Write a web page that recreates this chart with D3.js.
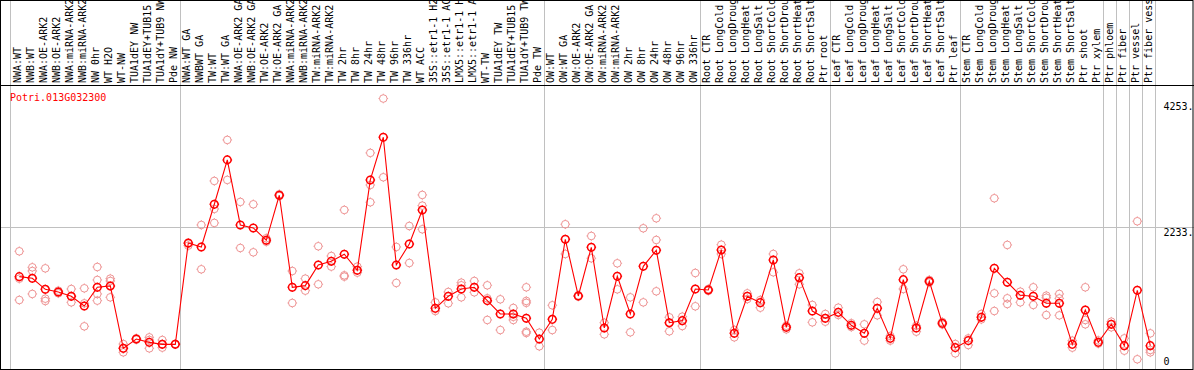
<!DOCTYPE html>
<html>
<head>
<meta charset="utf-8">
<script src="https://cdn.jsdelivr.net/npm/d3@7"></script>
<style>
  body { margin: 0; background: #fff; }
  svg { display: block; }
  text { font-family: "DejaVu Sans Mono", monospace; font-size: 10px; }
</style>
</head>
<body>
<svg width="1194" height="370"></svg>
<script>
var geneName = "Potri.013G032300"

var sampleLabels = ["NWA:WT", "NWB:WT", "NWA:OE-ARK2", "NWB:OE-ARK2", "NWA:miRNA-ARK2", "NWB:miRNA-ARK2",
  "NW 0hr", "WT H2O", "WT-NW", "TUA1dEY NW", "TUA1dEY+TUB15 NW", "TUA1dY+TUB9 NW", "Pde NW",
  "NWA:WT GA", "NWBWT GA", "TW:WT", "TW:WT GA", "NWA:OE-ARK2 GA", "NWB:OE-ARK2 GA", "TW:OE-ARK2",
  "TW:OE-ARK2 GA", "NWA:miRNA-ARK2", "NWB:miRNA-ARK2", "TW:miRNA-ARK2", "TW:miRNA-ARK2", "TW 2hr",
  "TW 8hr", "TW 24hr", "TW 48hr", "TW 96hr", "TW 336hr", "WT ACC", "35S::etr1-1 H2O", "35S::etr1-1 ACC",
  "LMX5::etr1-1 H2O", "LMX5::etr1-1 ACC", "WT-TW", "TUA1dEY TW", "TUA1dEY+TUB15 TW", "TUA1dY+TUB9 TW", "Pde TW",
  "OW:WT", "OW:WT GA", "OW:OE-ARK2", "OW:OE-ARK2 GA", "OW:miRNA-ARK2", "OW:miRNA-ARK2", "OW 2hr", "OW 8hr",
  "OW 24hr", "OW 48hr", "OW 96hr", "OW 336hr",
  "Root CTR", "Root LongCold", "Root LongDrought", "Root LongHeat", "Root LongSalt", "Root ShortCold",
  "Root ShortDrought", "Root ShortHeat", "Root ShortSalt", "Ptr root",
  "Leaf CTR", "Leaf LongCold", "Leaf LongDrought", "Leaf LongHeat", "Leaf LongSalt", "Leaf ShortCold",
  "Leaf ShortDrought", "Leaf ShortHeat", "Leaf ShortSalt", "Ptr leaf",
  "Stem CTR", "Stem LongCold", "Stem LongDrought", "Stem LongHeat", "Stem LongSalt", "Stem ShortCold",
  "Stem ShortDrought", "Stem ShortHeat", "Stem ShortSalt", "Ptr shoot",
  "Ptr xylem", "Ptr phloem", "Ptr fiber", "Ptr vessel", "Ptr fiber vessel"]

var meanValues = [1452, 1426, 1253, 1211, 1143, 991, 1285, 1306, 325, 472, 419, 388, 388,
  1982, 1919, 2590, 3288, 2265, 2218, 2024, 2732, 1285, 1311, 1636, 1694, 1804, 1552, 2973, 3644,
  1636, 1966, 2501, 954, 1143, 1258, 1285, 1075, 865, 865, 797, 472,
  781, 2040, 1148, 1914, 645, 1458, 865, 1615, 1867, 728, 760, 1258,
  1243, 1872, 561, 1143, 1043, 1715, 656, 1436, 912, 797,
  891, 687, 561, 954, 482, 1405, 645, 1379, 718, 336,
  446, 813, 1583, 1364, 1159, 1143, 1033, 1033, 388, 928,
  419, 703, 367, 1238, 367]

var replicateValues = [
  [1851, 1085, 1420], [1599, 1541, 1180], [1583, 1106, 1069], [1232, 1190, 1211], [1258, 1048, 1143],
  [1269, 1033, 671], [1604, 1400, 1180, 1075], [1421, 1384, 1127], [393, 262, 325], [482, 462],
  [498, 456, 325], [456, 388, 336], [395, 388],
  [1971, 1940], [2265, 1568], [2957, 2517, 2297], [3602, 2973], [2627, 1903], [2590, 1835], [2056, 2000],
  [2748, 2720], [1541, 1038], [1421, 1232], [1930, 1332], [1777, 1610], [2501, 1473, 1452], [1610, 1515],
  [3398, 2894, 2622], [4253, 3015], [1919, 1353], [2249, 1667], [2737, 2569, 2197], [1048, 912],
  [1211, 1033], [1358, 1316, 1127], [1384, 1206], [1316, 1112, 771], [1096, 613], [960, 771, 820],
  [1285, 1070, 1040, 587, 566], [571, 357],
  [1002, 613], [2276, 1809], [1160, 1140], [2092, 1741], [728, 545], [1662, 1253], [1127, 577],
  [2213, 1048], [2370, 2029, 1222], [813, 593], [823, 676], [1510, 986],
  [1258, 1230], [1955, 1809], [613, 498], [1190, 1100], [1085, 964], [1809, 1521], [624, 680],
  [1505, 1332], [1007, 734], [865, 744],
  [964, 850], [720, 660], [703, 446], [1054, 844], [519, 446], [1568, 1258], [587, 680], [1400, 1360],
  [740, 700], [393, 246],
  [482, 377], [865, 780], [2685, 1190, 912], [1951, 1112, 1022], [1216, 1048], [1285, 1007],
  [1153, 1120, 849], [1180, 1110, 844], [446, 336], [1285, 771, 703],
  [450, 400], [744, 656], [482, 288], [2323, 153], [561, 299, 262]]

// last sample index of each tissue block (-1 = left edge)
var groupEnds = [-1, 12, 40, 52, 62, 72, 83, 84, 85, 86, 87]

var yTickValues = [4253, 2233, 0]

function renderChart() {
  var svg = d3.select("svg")
  var width = 1194, height = 370
  var labelBottom = 85, plotBottom = 369

  var xScale = d3.scaleLinear().domain([0, sampleLabels.length - 1]).range([19.3, 19.3 + 13 * (sampleLabels.length - 1)])
  var yScale = d3.scaleLinear().domain([0, d3.max(replicateValues.flat()) * 1.05]).range([plotBottom, labelBottom])

  var crisp = v => Math.round(v) + 0.5

  // grid
  var grid = svg.append("g").attr("id", "grid").style("stroke", "#c0c0c0").style("stroke-width", 1)
  grid.selectAll(".vgrid")
    .data(groupEnds)
    .enter()
    .append("line").attr("class", "vgrid")
    .attr("x1", d => crisp(d < 0 ? xScale(0) - 9.3 : xScale(d) + 5))
    .attr("x2", d => crisp(d < 0 ? xScale(0) - 9.3 : xScale(d) + 5))
    .attr("y1", 0).attr("y2", plotBottom)

  grid.append("line")
    .attr("x1", 0).attr("x2", width)
    .attr("y1", crisp(yScale(yScale.domain()[1] / 2))).attr("y2", crisp(yScale(yScale.domain()[1] / 2)))

  // frame
  var frame = svg.append("g").attr("id", "frame").style("stroke", "#000").style("stroke-width", 1).style("fill", "none")
  frame.append("rect").attr("x", 0.5).attr("y", 0.5).attr("width", width - 1.5).attr("height", plotBottom)
  frame.append("line").attr("x1", 0).attr("x2", width).attr("y1", labelBottom + 0.5).attr("y2", labelBottom + 0.5)

  // sample labels (cut at the top edge, as in the original)
  svg.append("g").attr("id", "labels")
    .selectAll("text")
    .data(sampleLabels)
    .enter()
    .append("text")
    .attr("transform", (d, i) => `translate(${xScale(i) + 2},${labelBottom - 2}) rotate(-90)`)
    .style("fill", "#000")
    .text(d => d)

  // y tick labels
  var tickDy = { 4253: 11.5, 2233: 9, 0: -4 }
  svg.append("g").attr("id", "yLabels")
    .selectAll("text")
    .data(yTickValues)
    .enter()
    .append("text")
    .attr("x", 1163.5)
    .attr("y", d => yScale(d) + tickDy[d])
    .style("fill", "#000")
    .text(d => d === 0 ? "0" : d + ".")

  svg.append("text").attr("x", 10).attr("y", 101).style("fill", "#ff0000").text(geneName)

  // ring with four short ticks, like the bitmap markers
  function ringPath(cx, cy) {
    var p = d3.path(), r = 3.8, t = 4.8
    p.moveTo(cx + r, cy)
    p.arc(cx, cy, r, 0, 2 * Math.PI)
    p.moveTo(cx, cy - r); p.lineTo(cx, cy - t)
    p.moveTo(cx, cy + r); p.lineTo(cx, cy + t)
    p.moveTo(cx - r, cy); p.lineTo(cx - t, cy)
    p.moveTo(cx + r, cy); p.lineTo(cx + t, cy)
    return p.toString()
  }

  var reps = replicateValues.flatMap((vals, i) => vals.map(v => ({ i: i, v: v })))
  svg.append("g").attr("id", "replicates")
    .selectAll("path")
    .data(reps)
    .enter()
    .append("path")
    .attr("d", d => ringPath(xScale(d.i), yScale(d.v)))
    .style("fill", "none").style("stroke", "#ee9494").style("stroke-width", 1)

  var lineGen = d3.line().x((d, i) => xScale(i)).y(d => yScale(d))
  svg.append("path").attr("id", "meanLine")
    .attr("d", lineGen(meanValues))
    .style("fill", "none").style("stroke", "#ff0000").style("stroke-width", 1.1)

  svg.append("g").attr("id", "means")
    .selectAll("path")
    .data(meanValues)
    .enter()
    .append("path")
    .attr("d", (d, i) => ringPath(xScale(i), yScale(d)))
    .style("fill", "none").style("stroke", "#ff0000").style("stroke-width", 1.5)
}

renderChart()
</script>
</body>
</html>
